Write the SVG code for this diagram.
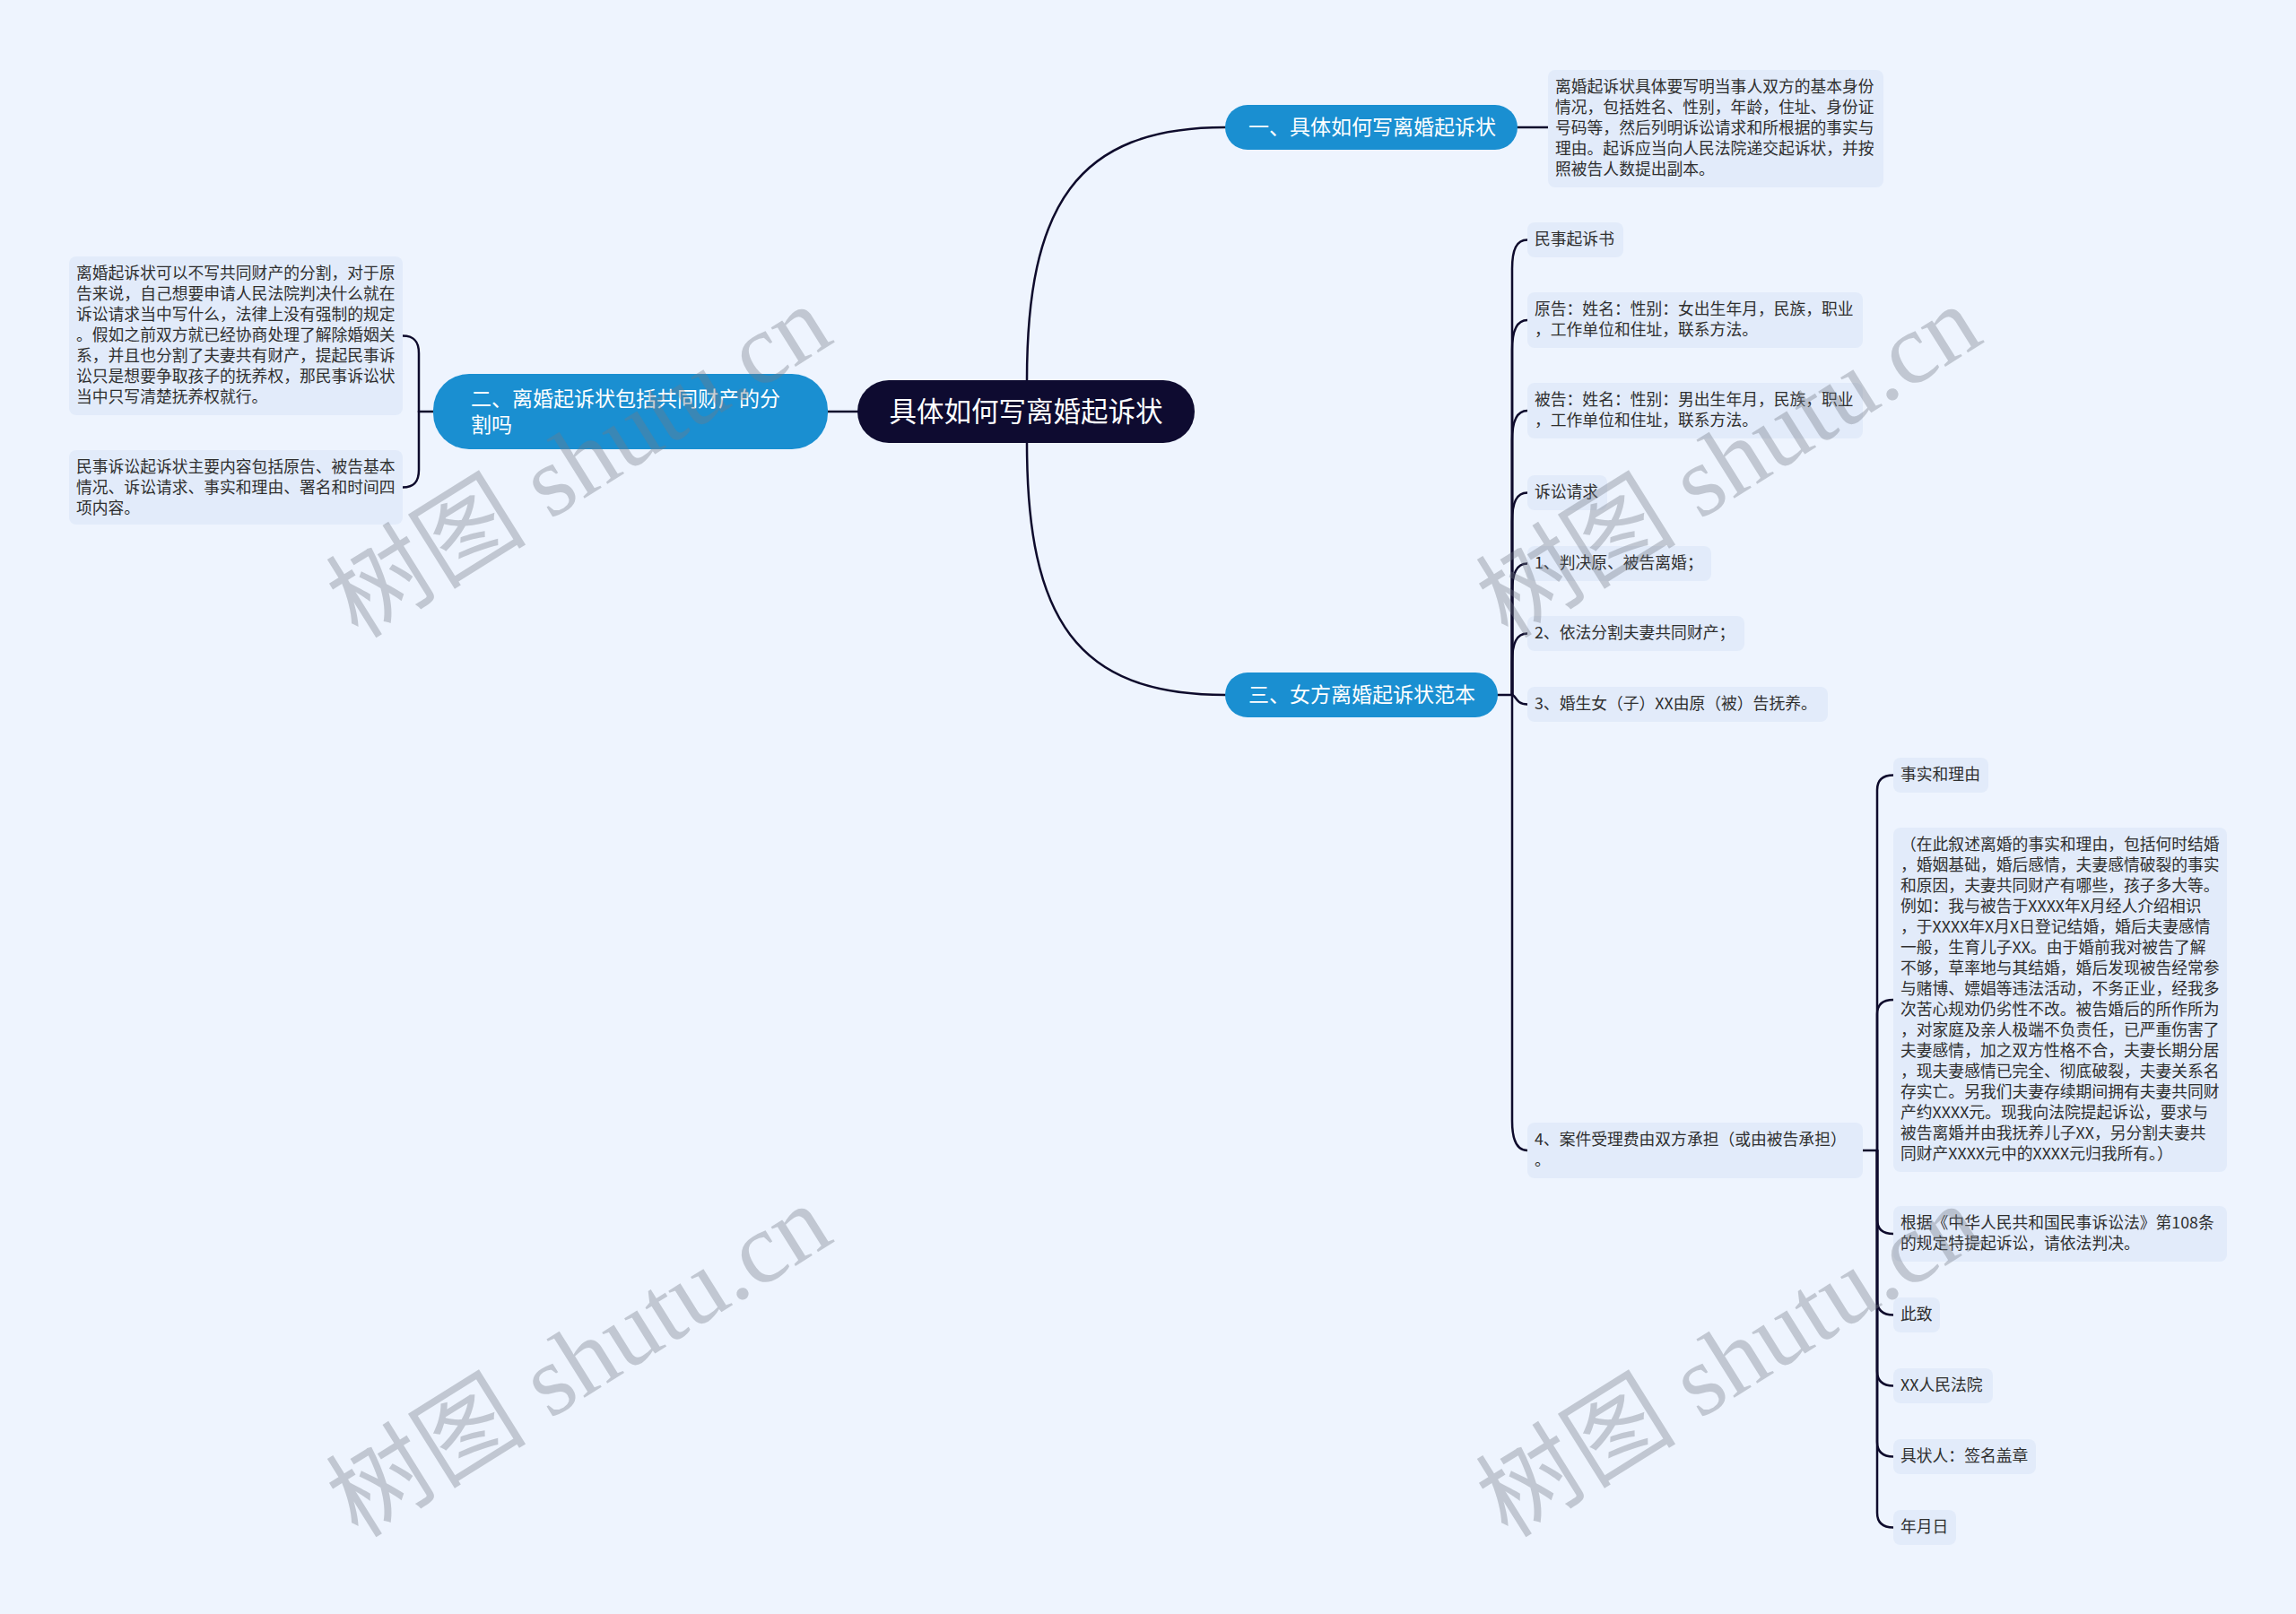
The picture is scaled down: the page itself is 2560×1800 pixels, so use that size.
<svg xmlns="http://www.w3.org/2000/svg" width="2560" height="1800" viewBox="0 0 2560 1800">
<style>
.bg{fill:#eef4fe}
.leaf rect{fill:#e2ebfa}
.leaf text{font-family:"Noto Sans CJK SC","Noto Sans",sans-serif;font-size:17.8px;fill:#2f2f2f}
.br rect{fill:#1a8fd1}
.br text{font-family:"Noto Sans CJK SC","Noto Sans",sans-serif;font-size:23px;fill:#ffffff}
.root rect{fill:#0e0b30}
.root text{font-family:"Noto Sans CJK SC","Noto Sans",sans-serif;font-size:30.5px;fill:#ffffff}
.conn path{fill:none;stroke:#0e0b2c;stroke-width:2.5;stroke-linecap:round}
.wm{font-family:"Liberation Serif","Noto Sans CJK SC",serif;font-size:112px;fill:#737a85;opacity:0.36}
</style>
<rect class="bg" x="0" y="0" width="2560" height="1800"/>

<g id="connectors" class="conn">
<path d="M956,459 H923"/>
<path d="M1145,424 C1145,230 1200,142 1366,142"/>
<path d="M1145,494 C1145,690 1200,775 1366,775"/>
<path d="M1692,142 H1726"/>
<path d="M483,459 H467"/>
<path d="M467,459 V394 C467,381 462,374.5 449,374.5"/>
<path d="M467,459 V524 C467,537 462,543.5 449,543.5"/>
<path d="M1670,775 H1686"/>
<path d="M1686,775 V300 C1686,278 1691,267.5 1703,267.5"/>
<path d="M1686,775 V390 C1686,368 1691,357 1703,357"/>
<path d="M1686,775 V491 C1686,469 1691,458 1703,458"/>
<path d="M1686,775 V582 C1686,560 1691,549.5 1703,549.5"/>
<path d="M1686,775 V661 C1686,639 1691,628.5 1703,628.5"/>
<path d="M1686,775 V739 C1686,717 1691,706.5 1703,706.5"/>
<path d="M1686,775 C1690,775 1690,785.5 1703,785.5"/>
<path d="M1686,775 V1250 C1686,1272 1691,1283 1703,1283"/>
<path d="M2077,1283 H2093"/>
<path d="M2093,1283 V881 Q2093,864.5 2111,864.5"/>
<path d="M2093,1283 V1131 Q2093,1115 2111,1115"/>
<path d="M2093,1283 V1360 Q2093,1376 2111,1376"/>
<path d="M2093,1283 V1450 Q2093,1466.5 2111,1466.5"/>
<path d="M2093,1283 V1529 Q2093,1545.5 2111,1545.5"/>
<path d="M2093,1283 V1608 Q2093,1624.5 2111,1624.5"/>
<path d="M2093,1283 V1687 Q2093,1703.5 2111,1703.5"/>
</g>

<g id="root" class="root">
<rect x="956" y="424" width="376" height="70" rx="35"/>
<text x="1144" y="470" text-anchor="middle">具体如何写离婚起诉状</text>
</g>

<g id="b1" class="br">
<rect x="1366" y="117" width="326" height="50" rx="25"/>
<text x="1392" y="150">一、具体如何写离婚起诉状</text>
</g>
<g id="b2" class="br">
<rect x="483" y="417" width="440" height="84" rx="40"/>
<text x="525" y="453">二、离婚起诉状包括共同财产的分</text>
<text x="525" y="482">割吗</text>
</g>
<g id="b3" class="br">
<rect x="1366" y="750" width="304" height="50" rx="25"/>
<text x="1392" y="783">三、女方离婚起诉状范本</text>
</g>

<g id="l1" class="leaf">
<rect x="1726" y="78" width="374" height="131" rx="8"/>
<text x="1734" y="103">离婚起诉状具体要写明当事人双方的基本身份</text>
<text x="1734" y="126">情况，包括姓名、性别，年龄，住址、身份证</text>
<text x="1734" y="149">号码等，然后列明诉讼请求和所根据的事实与</text>
<text x="1734" y="172">理由。起诉应当向人民法院递交起诉状，并按</text>
<text x="1734" y="195">照被告人数提出副本。</text>
</g>

<g id="l2a" class="leaf">
<rect x="77" y="286" width="372" height="177" rx="8"/>
<text x="85" y="311">离婚起诉状可以不写共同财产的分割，对于原</text>
<text x="85" y="334">告来说，自己想要申请人民法院判决什么就在</text>
<text x="85" y="357">诉讼请求当中写什么，法律上没有强制的规定</text>
<text x="85" y="380">。假如之前双方就已经协商处理了解除婚姻关</text>
<text x="85" y="403">系，并且也分割了夫妻共有财产，提起民事诉</text>
<text x="85" y="426">讼只是想要争取孩子的抚养权，那民事诉讼状</text>
<text x="85" y="449">当中只写清楚抚养权就行。</text>
</g>
<g id="l2b" class="leaf">
<rect x="77" y="502" width="372" height="83" rx="8"/>
<text x="85" y="527">民事诉讼起诉状主要内容包括原告、被告基本</text>
<text x="85" y="550">情况、诉讼请求、事实和理由、署名和时间四</text>
<text x="85" y="573">项内容。</text>
</g>

<g id="c1" class="leaf">
<rect x="1703" y="248" width="107" height="39" rx="8"/>
<text x="1711" y="273">民事起诉书</text>
</g>
<g id="c2" class="leaf">
<rect x="1703" y="326" width="374" height="62" rx="8"/>
<text x="1711" y="351">原告：姓名：性别：女出生年月，民族，职业</text>
<text x="1711" y="374">，工作单位和住址，联系方法。</text>
</g>
<g id="c3" class="leaf">
<rect x="1703" y="427" width="374" height="62" rx="8"/>
<text x="1711" y="452">被告：姓名：性别：男出生年月，民族，职业</text>
<text x="1711" y="475">，工作单位和住址，联系方法。</text>
</g>
<g id="c4" class="leaf">
<rect x="1703" y="530" width="89" height="39" rx="8"/>
<text x="1711" y="555">诉讼请求</text>
</g>
<g id="c5" class="leaf">
<rect x="1703" y="609" width="205" height="39" rx="8"/>
<text x="1711" y="634">1、判决原、被告离婚；</text>
</g>
<g id="c6" class="leaf">
<rect x="1703" y="687" width="242" height="39" rx="8"/>
<text x="1711" y="712">2、依法分割夫妻共同财产；</text>
</g>
<g id="c7" class="leaf">
<rect x="1703" y="766" width="335" height="39" rx="8"/>
<text x="1711" y="791">3、婚生女（子）XX由原（被）告抚养。</text>
</g>
<g id="c8" class="leaf">
<rect x="1703" y="1252" width="374" height="62" rx="8"/>
<text x="1711" y="1277">4、案件受理费由双方承担（或由被告承担）</text>
<text x="1711" y="1300">。</text>
</g>

<g id="d1" class="leaf">
<rect x="2111" y="845" width="106" height="39" rx="8"/>
<text x="2119" y="870">事实和理由</text>
</g>
<g id="d2" class="leaf">
<rect x="2111" y="923" width="372" height="384" rx="8"/>
<text x="2119" y="948">（在此叙述离婚的事实和理由，包括何时结婚</text>
<text x="2119" y="971">，婚姻基础，婚后感情，夫妻感情破裂的事实</text>
<text x="2119" y="994">和原因，夫妻共同财产有哪些，孩子多大等。</text>
<text x="2119" y="1017">例如：我与被告于XXXX年X月经人介绍相识</text>
<text x="2119" y="1040">，于XXXX年X月X日登记结婚，婚后夫妻感情</text>
<text x="2119" y="1063">一般，生育儿子XX。由于婚前我对被告了解</text>
<text x="2119" y="1086">不够，草率地与其结婚，婚后发现被告经常参</text>
<text x="2119" y="1109">与赌博、嫖娼等违法活动，不务正业，经我多</text>
<text x="2119" y="1132">次苦心规劝仍劣性不改。被告婚后的所作所为</text>
<text x="2119" y="1155">，对家庭及亲人极端不负责任，已严重伤害了</text>
<text x="2119" y="1178">夫妻感情，加之双方性格不合，夫妻长期分居</text>
<text x="2119" y="1201">，现夫妻感情已完全、彻底破裂，夫妻关系名</text>
<text x="2119" y="1224">存实亡。另我们夫妻存续期间拥有夫妻共同财</text>
<text x="2119" y="1247">产约XXXX元。现我向法院提起诉讼，要求与</text>
<text x="2119" y="1270">被告离婚并由我抚养儿子XX，另分割夫妻共</text>
<text x="2119" y="1293">同财产XXXX元中的XXXX元归我所有。）</text>
</g>
<g id="d3" class="leaf">
<rect x="2111" y="1345" width="372" height="62" rx="8"/>
<text x="2119" y="1370">根据《中华人民共和国民事诉讼法》第108条</text>
<text x="2119" y="1393">的规定特提起诉讼，请依法判决。</text>
</g>
<g id="d4" class="leaf">
<rect x="2111" y="1447" width="52" height="39" rx="8"/>
<text x="2119" y="1472">此致</text>
</g>
<g id="d5" class="leaf">
<rect x="2111" y="1526" width="111" height="39" rx="8"/>
<text x="2119" y="1551">XX人民法院</text>
</g>
<g id="d6" class="leaf">
<rect x="2111" y="1605" width="159" height="39" rx="8"/>
<text x="2119" y="1630">具状人：签名盖章</text>
</g>
<g id="d7" class="leaf">
<rect x="2111" y="1684" width="70" height="39" rx="8"/>
<text x="2119" y="1709">年月日</text>
</g>

<g id="watermarks">
<text class="wm" x="645" y="553" text-anchor="middle" transform="rotate(-32 645 514)">树图 shutu.cn</text>
<text class="wm" x="1927" y="553" text-anchor="middle" transform="rotate(-32 1927 514)">树图 shutu.cn</text>
<text class="wm" x="645" y="1556" text-anchor="middle" transform="rotate(-32 645 1517)">树图 shutu.cn</text>
<text class="wm" x="1927" y="1556" text-anchor="middle" transform="rotate(-32 1927 1517)">树图 shutu.cn</text>
</g>
</svg>
